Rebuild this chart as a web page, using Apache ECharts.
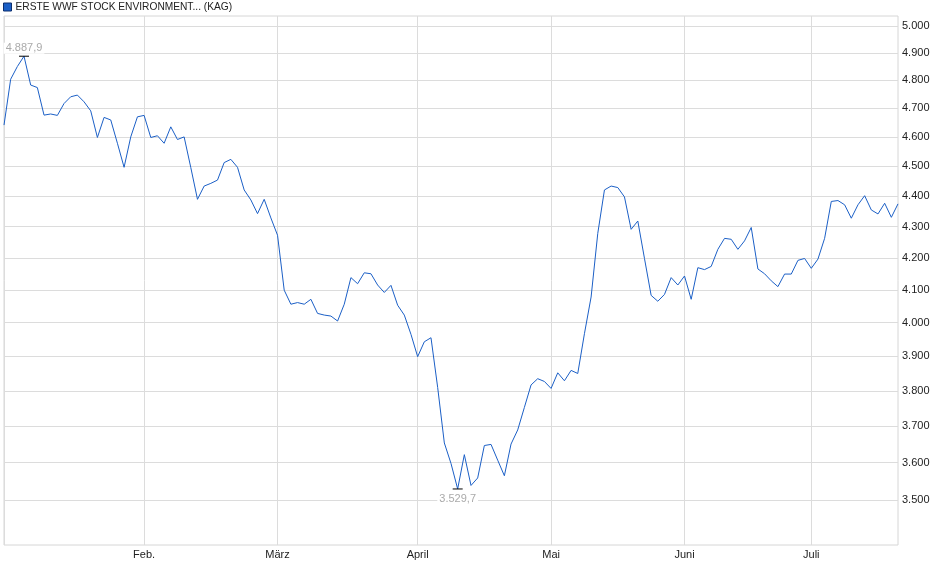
<!DOCTYPE html>
<html>
<head>
<meta charset="utf-8">
<title>ERSTE WWF STOCK ENVIRONMENT (KAG)</title>
<script src="https://cdn.jsdelivr.net/npm/echarts@6/dist/echarts.min.js"></script>
<style>
    html, body { margin: 0; padding: 0; background: #fff; }
    #chart { width: 940px; height: 579px; }
</style>
</head>
<body>
<div id="chart"></div>
<script>
// fund name as shown in the legend
var seriesName = 'ERSTE WWF STOCK ENVIRONMENT... (KAG)';

// month labels and the trading-day index where each month starts
var monthLabels = ['', 'Feb.', 'März', 'April', 'Mai', 'Juni', 'Juli'];
var monthStart = [0, 21, 41, 62, 82, 102, 121];

// y axis gridline values (log scale)
var yTicks = [3500, 3600, 3700, 3800, 3900, 4000, 4100, 4200, 4300, 4400, 4500, 4600, 4700, 4800, 4900, 5000];

// daily prices, Jan - Jul
var prices = [
    4641, 4804, 4850, 4887.9, 4783, 4774, 4676, 4680, 4675, 4717,
    4741, 4747, 4723, 4691, 4598, 4668, 4659, 4578, 4496, 4600,
    4670, 4675, 4598, 4604, 4578, 4635, 4591, 4600, 4495, 4389,
    4433, 4442, 4453, 4512, 4523, 4496, 4420, 4387, 4342, 4389,
    4328, 4272, 4099, 4056, 4061, 4056, 4071, 4028, 4023, 4020,
    4005, 4056, 4138, 4119, 4153, 4150, 4115, 4092, 4114, 4053,
    4023, 3965, 3899, 3943, 3955, 3810, 3654, 3598, 3529.7, 3622,
    3539, 3559, 3647, 3650, 3607, 3565, 3651, 3690, 3753, 3817,
    3835, 3827, 3807, 3852, 3829, 3859, 3850, 3967, 4078, 4278,
    4420, 4433, 4428, 4397, 4291, 4318, 4198, 4083, 4065, 4086,
    4138, 4115, 4143, 4071, 4169, 4163, 4173, 4227, 4262, 4259,
    4227, 4254, 4297, 4165, 4150, 4128, 4110, 4149, 4149, 4192,
    4198, 4167, 4196, 4262, 4382, 4385, 4371, 4327, 4371, 4401,
    4354, 4341, 4376, 4330, 4374
];

var days = prices.map(function (p, i) { return i; });

function thousands(n) {
    return String(n).replace(/\B(?=(\d{3})+(?!\d))/g, '.');
}

function deNumber(v) {
    var parts = Number(v).toFixed(1).split('.');
    return thousands(parts[0]) + ',' + parts[1];
}

function monthLabelAt(idx) {
    var k = monthStart.indexOf(Number(idx));
    return k >= 0 ? monthLabels[k] : '';
}

var myChart = echarts.init(document.getElementById('chart'));

var option = {
    animation: false,
    textStyle: { fontFamily: 'Liberation Sans, Arial, sans-serif' },
    legend: {
        left: 0,
        top: 0,
        padding: [2, 3],
        icon: 'rect',
        itemWidth: 8,
        itemHeight: 8,
        itemGap: 6,
        selectedMode: false,
        textStyle: { color: '#222', fontSize: 10.2, padding: [0, 0, 0, -1] },
        data: [{ name: seriesName, itemStyle: { color: '#1b5fc6', borderColor: '#0c2f6e', borderWidth: 1 } }]
    },
    grid: {
        left: 4,
        right: 42,
        top: 16,
        bottom: 34,
        show: true,
        borderColor: '#d6d6d6',
        borderWidth: 1,
        containLabel: false
    },
    xAxis: {
        type: 'category',
        data: days,
        boundaryGap: false,
        axisLine: { show: false },
        axisTick: { show: false },
        axisLabel: {
            interval: function (index) { return monthStart.indexOf(index) >= 0; },
            formatter: monthLabelAt,
            color: '#222',
            fontSize: 11,
            margin: 4
        },
        splitLine: {
            show: true,
            interval: function (index) { return monthStart.indexOf(index) >= 0; },
            lineStyle: { color: '#dcdcdc', width: 1 }
        }
    },
    yAxis: {
        type: 'log',
        logBase: 10,
        position: 'right',
        min: 3384,
        max: 5038,
        axisLine: { show: false },
        axisTick: { show: false, customValues: yTicks },
        axisLabel: {
            customValues: yTicks,
            formatter: function (v) { return thousands(Math.round(v)); },
            color: '#222',
            fontSize: 11,
            margin: 4
        },
        splitLine: { show: true, lineStyle: { color: '#dcdcdc', width: 1 } },
        minorSplitLine: { show: false }
    },
    series: [{
        name: seriesName,
        type: 'line',
        data: prices,
        showSymbol: false,
        symbol: 'none',
        color: '#1b5fc6',
        lineStyle: { color: '#1b5fc6', width: 1 },
        markPoint: {
            symbol: 'rect',
            symbolSize: [10, 1],
            itemStyle: { color: '#000' },
            label: {
                show: true,
                color: '#aaa',
                fontSize: 11,
                backgroundColor: '#fff',
                padding: [0, 2],
                formatter: function (p) { return deNumber(p.value); }
            },
            data: [
                { type: 'max', label: { position: 'top', distance: 2 } },
                { type: 'min', label: { position: 'bottom', distance: 4 } }
            ]
        }
    }]
};

myChart.setOption(option);
</script>
</body>
</html>
